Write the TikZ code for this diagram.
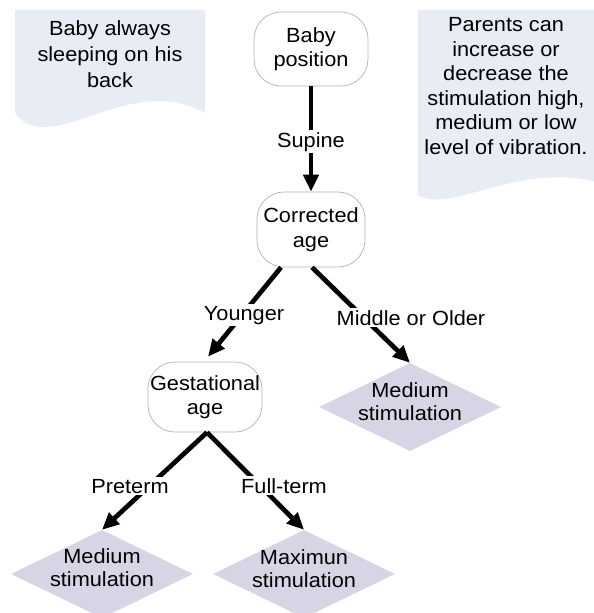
\documentclass[tikz,border=0pt]{standalone}
\usepackage{fontspec}
\setmainfont{Liberation Sans}[FakeStretch=1.06]
\usetikzlibrary{arrows.meta,shapes.geometric,calc}
\definecolor{notefill}{RGB}{232,236,244}
\definecolor{diafill}{RGB}{217,212,229}
\begin{document}
\begin{tikzpicture}[x=1pt,y=-1pt,
  txt/.style={font=\fontsize{20.5}{24.5}\selectfont, align=center, inner sep=0pt},
  roundbox/.style={txt, draw=gray!60, line width=0.7pt, rounded corners=27pt, fill=white, minimum height=#1},
  diabox/.style={diamond, fill=diafill, draw=none, minimum width=182pt, minimum height=88pt, inner sep=0pt},
  diatxt/.style={font=\fontsize{20.5}{23}\selectfont, align=center, inner sep=0pt},
  lbl/.style={font=\fontsize{20.5}{24}\selectfont, fill=white, inner sep=2pt, anchor=base},
  arr/.style={line width=4.7pt, -{Triangle[length=17pt,width=15pt]}},
  notetxt/.style={txt},
]
\useasboundingbox (0,0) rectangle (594,613);

% notes
\fill[notefill] (15,10) -- (205,10) -- (205,113)
  .. controls (130,70) and (50,160) .. (15,113) -- cycle;
\fill[notefill] (418,10) -- (600,10) -- (600,183)
  .. controls (520,160) and (450,215) .. (418,195) -- cycle;
\node[notetxt, font=\fontsize{20.5}{26}\selectfont] (n1) at (110,54) {Baby always\\sleeping on his\\back};
\node[notetxt] (n2) at (506,86) {Parents can\\increase or\\decrease the\\stimulation high,\\medium or low\\level of vibration.};

% rounded boxes
\node[roundbox=74pt, minimum width=114pt] (bp) at (311,49) {Baby\\position};
\node[roundbox=75pt, minimum width=108pt] (ca) at (311,229.5) {Corrected\\age};
\node[roundbox=70pt, minimum width=114pt] (ga) at (205,397) {Gestational\\age};

% diamonds
\node[diabox] (md) at (410,407) {};
\node[diabox] (ml) at (102,574) {};
\node[diabox] (mx) at (304,574) {};
\node[diatxt] at ($(md.center)+(0,-5)$) {Medium\\stimulation};
\node[diatxt] at ($(ml.center)+(0,-6)$) {Medium\\stimulation};
\node[diatxt] at ($(mx.center)+(0,-5)$) {Maximun\\stimulation};

% connectors
\draw[arr] (bp.south) -- (ca.north);
\draw[arr] ([xshift=-30pt]ca.south) -- ([xshift=3pt,yshift=5pt]ga.north);
\draw[arr] ([xshift=1pt]ca.south) -- (md.north);
\draw[arr] ([xshift=2pt]ga.south) -- (ml.north);
\draw[arr] ([xshift=2pt]ga.south) -- (mx.north);

% labels
\node[lbl] (l1) at (311,147) {Supine};
\node[lbl] (l2) at (244,320) {Younger};
\node[lbl] (l3) at (411,325) {Middle or Older};
\node[lbl] (l4) at (130,493) {Preterm};
\node[lbl] (l5) at (284,493) {Full-term};
\end{tikzpicture}
\end{document}
